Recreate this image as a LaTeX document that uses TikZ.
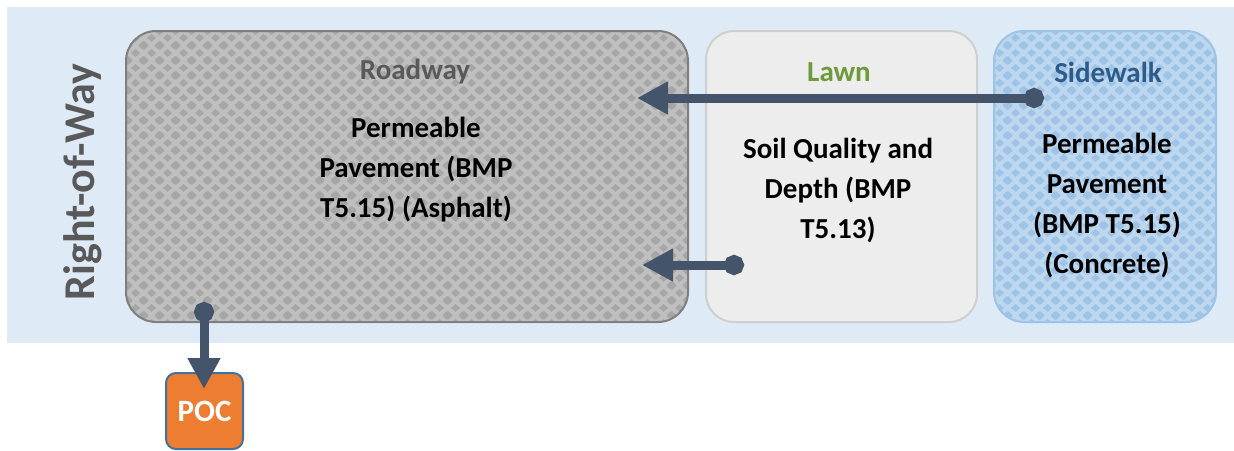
\documentclass[tikz,border=0pt]{standalone}
\usepackage{fontspec}
\setmainfont{Carlito}
\usetikzlibrary{arrows.meta,patterns}
\definecolor{bgblue}{HTML}{DEEBF7}
\definecolor{roadfill}{HTML}{BFBFBF}
\definecolor{roaddiam}{HTML}{A6A6A6}
\definecolor{roadborder}{HTML}{7F7F7F}
\definecolor{lawnfill}{HTML}{EDEDED}
\definecolor{lawnborder}{HTML}{CFCFCF}
\definecolor{sidefill}{HTML}{BDD7EE}
\definecolor{sidediam}{HTML}{9DC3E6}
\definecolor{sideborder}{HTML}{9DC3E6}
\definecolor{arrowc}{HTML}{44546A}
\definecolor{pocfill}{HTML}{ED7D31}
\definecolor{pocborder}{HTML}{41719C}
\definecolor{graytext}{HTML}{595959}
\definecolor{lawngreen}{HTML}{6E9A3A}
\definecolor{sideblue}{HTML}{2E5C8A}
\newcommand{\mydiam}[2]{%
  \pgfpathmoveto{\pgfpoint{#1pt-4.8pt}{#2pt}}\pgfpathlineto{\pgfpoint{#1pt}{#2pt+4.2pt}}%
  \pgfpathlineto{\pgfpoint{#1pt+4.8pt}{#2pt}}\pgfpathlineto{\pgfpoint{#1pt}{#2pt-4.2pt}}\pgfpathclose}
\pgfdeclarepatternformonly{diamonds}{\pgfpointorigin}{\pgfpoint{16pt}{15pt}}{\pgfpoint{16pt}{15pt}}{%
  \mydiam{0}{0}\mydiam{16}{0}\mydiam{0}{15}\mydiam{16}{15}\mydiam{8}{7.5}%
  \pgfusepath{fill}}
\begin{document}
\begin{tikzpicture}[x=1pt,y=-1pt,
  zone/.style={rectangle, line width=2pt, inner sep=0pt, minimum height=291pt},
  title/.style={font=\bfseries\fontsize{29}{34}\selectfont},
  body/.style={align=center, font=\bfseries\fontsize{29}{40}\selectfont},
  conn/.style={draw=arrowc, line width=9pt, {Circle[length=20pt]}-{Triangle[length=31pt,width=31pt]}}]
\useasboundingbox (0,0) rectangle (1234,450);
\fill[bgblue] (7,7) rectangle (1234,343);
\node[zone, preaction={fill=roadfill}, pattern=diamonds, pattern color=roaddiam, draw=roadborder,
      minimum width=562pt, rounded corners=30pt] (road) at (407,176.5) {};
\node[zone, fill=lawnfill, draw=lawnborder, minimum width=271pt, rounded corners=28pt] (lawn) at (841.5,176.5) {};
\node[zone, preaction={fill=sidefill}, pattern=diamonds, pattern color=sidediam, draw=sideborder,
      minimum width=222pt, rounded corners=30pt] (side) at (1105,176.5) {};
\node[title, text=graytext] (roadt) at (415,72) {Roadway};
\node[title, text=lawngreen] (lawnt) at (839,72) {Lawn};
\node[title, text=sideblue] (sidet) at (1108,72) {Sidewalk};
\node[body] (roadb) at (416,170) {Permeable\\Pavement (BMP\\T5.15) (Asphalt)};
\node[body] (lawnb) at (838,191) {Soil Quality and\\Depth (BMP\\T5.13)};
\node[body] (sideb) at (1107,206) {Permeable\\Pavement\\(BMP T5.15)\\(Concrete)};
\node[font=\bfseries\fontsize{44}{50}\selectfont, text=graytext, rotate=90] (row) at (83,182) {Right-of-Way};
\node[rectangle, fill=pocfill, draw=pocborder, line width=2pt, rounded corners=10pt,
      minimum width=77pt, minimum height=76pt, inner sep=0pt, text=white,
      font=\bfseries\fontsize{31}{36}\selectfont] (poc) at (204.5,411) {POC};
\coordinate (s1) at (1044,98);
\coordinate (e1) at (637,98);
\coordinate (s2) at (744,265);
\coordinate (e2) at (642,265);
\coordinate (s3) at (204,302);
\coordinate (e3) at (204,389);
\draw[conn] (s1) -- (e1);
\draw[conn] (s2) -- (e2);
\draw[conn] (s3) -- (e3);
\end{tikzpicture}
\end{document}
